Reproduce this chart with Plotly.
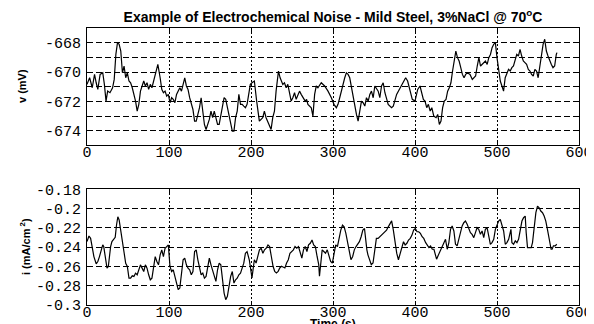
import plotly.graph_objects as go

# ---- data ----
time_v = [0, 3.2, 6.4, 9.2, 11.2, 13.2, 16, 19.2, 21.2, 23.2, 25.2, 28, 31.2, 33.2, 35.2, 37.2, 39.2, 41.2, 43.2, 45.2,
          47.2, 49.2, 51.2, 53.2, 55.2, 59.2, 61.2, 63.2, 65.2, 67.2, 69.2, 71.2, 73.2, 75.2, 77.2, 79.2, 83.2, 86.4, 89.2, 91.2,
          93.2, 95.2, 97.2, 99.2, 101.2, 103.2, 105.2, 107.2, 109.2, 111.2, 113.2, 115.2, 117.2, 119.2, 121.2, 123.2, 125.2, 127.2, 129.2, 131.2,
          133.2, 135.2, 137.2, 139.2, 141.2, 143.2, 145.2, 147.2, 149.2, 151.2, 153.2, 155.2, 157.2, 159.2, 161.2, 163.2, 165.2, 167.2, 169.2, 171.2,
          173.2, 175.2, 177.2, 179.2, 181.2, 183.2, 185.2, 187.2, 189.2, 191.2, 193.2, 195.2, 197.2, 199.2, 201.2, 204.1, 206.9, 210.2, 214.3, 216.3,
          218.4, 220.4, 222.4, 224.5, 226.5, 228.6, 230.6, 233.5, 235.5, 236.7, 238.8, 240.8, 242.9, 244.9, 246.9, 249.0, 251.0, 253.1, 255.1, 257.1,
          259.2, 261.2, 263.3, 266.1, 267.8, 269.4, 273.5, 275.5, 277.6, 279.6, 281.6, 285.7, 289.8, 293.9, 298.0, 301.2, 304.1, 306.1, 308.2, 311.0,
          314.3, 316.3, 318.4, 320.4, 323.3, 325.7, 328.6, 330.6, 332.7, 334.7, 336.7, 338.8, 340.8, 342.9, 344.9, 346.9, 349.0, 351.0, 355.1, 357.1,
          359.2, 361.2, 363.3, 365.3, 367.3, 371.4, 373.5, 377.6, 381.6, 385.7, 388.6, 391.0, 393.9, 396.7, 400.0, 403.3, 406.1, 408.2, 410.2, 412.2,
          414.3, 416.3, 418.5, 420.5, 422.9, 425.7, 427.7, 429.7, 431.7, 433.7, 435.7, 437.8, 439.8, 441.8, 443.8, 445.8, 447.8, 449.8, 451.8, 453.8,
          455.8, 457.8, 459.8, 461.8, 463.9, 467.1, 469.9, 471.9, 473.9, 475.9, 477.9, 479.9, 481.9, 483.9, 485.9, 488.0, 490.0, 492.0, 494.0, 496.0,
          498.0, 500.0, 502.0, 504.0, 506.0, 508.0, 510.0, 512.0, 514.1, 516.1, 518.1, 520.1, 522.1, 524.1, 526.1, 528.1, 530.1, 532.1, 534.1, 536.1,
          538.2, 540.2, 542.2, 544.2, 546.2, 548.2, 550.2, 552.2, 554.2, 556.2, 558.2, 560.2, 562.2, 564.3, 566.3, 568.3, 570.3, 572.3, 573.1]
voltage_mv = [-670.84, -670.39, -671.07, -670.16, -670.73, -671.18, -670.16, -670.05, -670.84, -671.98, -671.30, -671.41, -671.07, -670.5, -668.80, -668.0, -668.11, -668.57, -670.05, -669.59,
              -670.39, -670.05, -670.61, -670.73, -671.07, -671.98, -672.66, -672.20, -671.30, -670.95, -670.61, -670.95, -670.73, -671.18, -670.84, -671.07, -670.16, -669.48, -670.39, -671.18,
              -671.41, -671.30, -671.64, -671.52, -672.09, -671.75, -671.86, -672.09, -671.52, -671.30, -671.07, -671.30, -670.73, -670.39, -670.95, -671.18, -671.75, -672.20, -672.55, -673.34,
              -673.34, -672.89, -672.43, -671.75, -672.55, -673.57, -673.91, -673.57, -673.23, -672.66, -673.11, -672.66, -673.11, -673.57, -673.57, -672.89, -672.32, -671.75, -671.86, -672.43,
              -672.89, -673.57, -674.02, -674.02, -673.11, -672.66, -671.52, -672.20, -672.20, -672.32, -672.43, -672.20, -671.52, -670.84, -670.73, -670.61, -671.98, -673.34, -673.11, -672.66,
              -673.11, -673.34, -673.68, -673.91, -673.11, -672.66, -671.30, -669.93, -670.39, -670.61, -670.84, -670.73, -671.07, -670.84, -671.30, -671.98, -671.75, -671.41, -671.86, -671.52,
              -671.30, -671.52, -671.75, -671.98, -671.86, -672.20, -672.43, -673.0, -671.52, -670.95, -671.07, -670.73, -670.95, -671.30, -671.75, -672.20, -672.43, -672.20, -671.75, -671.07,
              -670.39, -670.05, -670.16, -670.39, -671.30, -672.20, -672.89, -673.34, -672.66, -671.98, -672.09, -672.32, -671.75, -671.98, -671.52, -671.30, -671.75, -670.95, -671.30, -671.75,
              -670.95, -670.73, -671.41, -671.75, -672.20, -672.43, -672.32, -671.52, -671.07, -670.61, -670.39, -670.61, -671.30, -671.86, -671.98, -671.18, -670.95, -671.52, -671.86, -671.98,
              -672.43, -672.20, -672.66, -672.43, -673.0, -673.11, -672.89, -673.57, -673.34, -672.43, -671.98, -671.86, -671.30, -671.07, -670.73, -669.93, -669.25, -668.57, -669.02, -669.25,
              -669.70, -670.16, -670.39, -670.16, -670.05, -670.16, -670.5, -670.39, -670.27, -669.59, -669.02, -669.59, -669.48, -669.36, -669.25, -669.48, -669.02, -668.80, -668.34, -668.11,
              -668.0, -669.02, -669.82, -670.61, -670.95, -671.30, -670.39, -670.05, -669.82, -669.93, -669.70, -669.59, -669.25, -668.80, -668.91, -668.45, -668.91, -669.25, -669.36, -669.48,
              -669.82, -669.93, -670.16, -670.27, -669.82, -669.93, -670.39, -669.59, -668.80, -668.11, -667.77, -668.57, -668.91, -669.25, -669.48, -669.70, -669.59, -668.80, -668.68]

time_i = [0, 2.4, 4.4, 6.4, 8.4, 11.2, 13.2, 15.2, 17.2, 19.2, 20.4, 22.4, 24.4, 26.0, 27.2, 28.8, 30.4, 32.4, 34.4, 36.0,
          37.6, 39.2, 41.2, 43.2, 45.2, 47.2, 49.2, 51.2, 53.2, 55.2, 57.2, 59.2, 61.2, 63.2, 65.2, 67.2, 69.2, 71.2, 73.2, 75.2,
          77.2, 79.2, 81.2, 83.2, 85.2, 87.2, 89.2, 91.2, 93.2, 95.2, 97.2, 99.2, 101.2, 103.2, 105.2, 107.2, 109.2, 111.2, 113.2, 115.2,
          117.2, 119.2, 121.2, 123.2, 125.2, 127.2, 129.2, 131.2, 133.2, 135.2, 137.2, 139.2, 141.2, 143.2, 145.2, 147.2, 149.2, 151.2, 153.2, 155.2,
          157.2, 159.2, 161.2, 163.2, 165.2, 167.2, 169.2, 171.2, 173.2, 175.2, 177.2, 179.2, 181.2, 183.2, 185.2, 187.2, 189.2, 191.2, 193.2, 195.2,
          197.9, 200.0, 201.2, 202.5, 204.1, 206.2, 208.3, 210.3, 212.4, 214.5, 216.5, 218.6, 220.7, 222.7, 224.8, 226.9, 228.9, 231.0, 233.1, 235.1,
          237.2, 241.3, 243.4, 245.5, 247.5, 249.6, 251.7, 253.7, 255.8, 257.9, 259.9, 262.0, 264.0, 266.1, 268.2, 270.2, 272.3, 274.4, 276.4, 278.5,
          280.6, 282.6, 283.5, 284.7, 286.8, 288.8, 290.9, 293.0, 295.0, 297.1, 299.2, 301.2, 303.3, 305.4, 307.4, 309.5, 311.6, 313.6, 315.7, 317.8,
          319.8, 321.9, 324.0, 326.0, 328.1, 330.2, 332.2, 334.3, 336.4, 338.4, 339.7, 341.3, 342.6, 344.6, 346.7, 348.8, 350.8, 352.9, 355.0, 357.0,
          359.1, 361.2, 363.2, 365.3, 367.4, 369.4, 371.5, 373.6, 375.6, 377.7, 379.8, 381.8, 383.9, 386.0, 388.0, 390.1, 392.1, 394.2, 396.3, 398.3,
          400.4, 402.5, 404.5, 406.6, 408.7, 410.7, 413.0, 415.0, 417.0, 419.0, 421.1, 423.1, 425.1, 426.3, 428.0, 430.0, 432.0, 433.2, 435.2, 437.2,
          439.3, 441.3, 443.3, 445.3, 447.4, 449.4, 451.4, 453.4, 455.5, 457.5, 459.5, 461.5, 463.6, 465.6, 467.6, 469.6, 471.7, 473.7, 475.7, 477.7,
          479.8, 481.8, 483.8, 485.8, 487.9, 489.9, 491.9, 493.9, 496.0, 498.0, 500.0, 502.0, 504.0, 506.1, 508.1, 510.1, 512.1, 514.2, 516.2, 517.0,
          518.2, 520.2, 522.3, 524.3, 526.3, 528.3, 530.4, 532.4, 534.4, 535.6, 537.2, 539.3, 541.7, 543.3, 544.5, 545.7, 547.4, 549.4, 551.4, 553.4,
          555.5, 557.5, 559.5, 561.5, 563.2, 564.8, 566.0, 567.2, 568.8, 570.9, 572.9]
current_ma_cm2 = [-0.2341, -0.2283, -0.2307, -0.2393, -0.2497, -0.2572, -0.2548, -0.2497, -0.2428, -0.2376, -0.2393, -0.2531, -0.2617, -0.2600, -0.2497, -0.2393, -0.2341, -0.2324, -0.2297, -0.2169,
                  -0.2083, -0.2117, -0.2221, -0.2324, -0.2462, -0.2566, -0.2600, -0.2721, -0.2721, -0.2697, -0.2703, -0.2669, -0.2686, -0.2634, -0.2583, -0.2617, -0.2652, -0.2583, -0.2617, -0.2686,
                  -0.2738, -0.2721, -0.2600, -0.2497, -0.2548, -0.2583, -0.2479, -0.2428, -0.2497, -0.2410, -0.2393, -0.2376, -0.2600, -0.2652, -0.2634, -0.2703, -0.2790, -0.2841, -0.2824, -0.2703,
                  -0.2531, -0.2514, -0.2583, -0.2617, -0.2634, -0.2686, -0.2652, -0.2445, -0.2428, -0.2531, -0.2617, -0.2686, -0.2669, -0.2721, -0.2703, -0.2617, -0.2514, -0.2583, -0.2634, -0.2703,
                  -0.2755, -0.2634, -0.2566, -0.2583, -0.2772, -0.2876, -0.2945, -0.2910, -0.2807, -0.2703, -0.2652, -0.2772, -0.2738, -0.2721, -0.2686, -0.2669, -0.2617, -0.2566, -0.2462, -0.2445,
                  -0.2530, -0.2667, -0.2718, -0.2632, -0.2530, -0.2564, -0.2496, -0.2427, -0.2410, -0.2462, -0.2427, -0.2410, -0.2376, -0.2393, -0.2496, -0.2598, -0.2650, -0.2667, -0.2650, -0.2615,
                  -0.2598, -0.2615, -0.2564, -0.2530, -0.2462, -0.2444, -0.2427, -0.2393, -0.2410, -0.2393, -0.2462, -0.2513, -0.2427, -0.2393, -0.2444, -0.2376, -0.2359, -0.2325, -0.2376, -0.2393,
                  -0.2496, -0.2581, -0.2701, -0.2564, -0.2427, -0.2444, -0.2462, -0.2427, -0.2479, -0.2547, -0.2564, -0.2462, -0.2376, -0.2393, -0.2291, -0.2222, -0.2171, -0.2188, -0.2256, -0.2342,
                  -0.2444, -0.2530, -0.2496, -0.2427, -0.2393, -0.2359, -0.2342, -0.2291, -0.2222, -0.2205, -0.2325, -0.2427, -0.2479, -0.2530, -0.2581, -0.2564, -0.2427, -0.2308, -0.2308, -0.2291,
                  -0.2274, -0.2256, -0.2239, -0.2222, -0.2188, -0.2154, -0.2126, -0.2222, -0.2359, -0.2462, -0.2530, -0.2462, -0.2393, -0.2342, -0.2376, -0.2359, -0.2325, -0.2308, -0.2274, -0.2222,
                  -0.2205, -0.2239, -0.2239, -0.2256, -0.2291, -0.2308, -0.2352, -0.2386, -0.2403, -0.2386, -0.2421, -0.2421, -0.2507, -0.2524, -0.2490, -0.2455, -0.2421, -0.2403, -0.2369, -0.2317,
                  -0.2421, -0.2352, -0.2214, -0.2179, -0.2231, -0.2369, -0.2386, -0.2317, -0.2248, -0.2179, -0.2145, -0.2128, -0.2162, -0.2214, -0.2248, -0.2266, -0.2300, -0.2248, -0.2197, -0.2214,
                  -0.2266, -0.2231, -0.2300, -0.2214, -0.2197, -0.2283, -0.2369, -0.2352, -0.2317, -0.2214, -0.2162, -0.2128, -0.2110, -0.2162, -0.2231, -0.2369, -0.2352, -0.2317, -0.2248, -0.2214,
                  -0.2352, -0.2369, -0.2334, -0.2352, -0.2317, -0.2231, -0.2128, -0.2093, -0.2076, -0.2248, -0.2403, -0.2403, -0.2403, -0.2352, -0.2248, -0.2128, -0.2041, -0.1972, -0.1990, -0.2024,
                  -0.2041, -0.2076, -0.2128, -0.2214, -0.2283, -0.2369, -0.2421, -0.2421, -0.2386, -0.2386, -0.2369]

x_ticks = [0, 100, 200, 300, 400, 500, 600]
x_tick_labels = ["0", "100", "200", "300", "400", "500", "600"]
v_ticks = [-674, -672, -670, -668]
v_tick_labels = ["-674", "-672", "-670", "-668"]
v_minor_ticks = [-673, -671, -669]
i_ticks = [-0.30, -0.28, -0.26, -0.24, -0.22, -0.20, -0.18]
i_tick_labels = ["-0.3", "-0.28", "-0.26", "-0.24", "-0.22", "-0.2", "-0.18"]

title_text = "Example of Electrochemical Noise - Mild Steel, 3%NaCl @ 70<sup>o</sup>C"

# The page body adds an 8px margin, so the figure is 8px smaller than the window.
FIG_W, FIG_H = 586, 316

fig = go.Figure()
fig.add_trace(go.Scatter(x=time_v, y=voltage_mv, mode="lines", line=dict(color="black", width=1.2),
                         xaxis="x", yaxis="y", showlegend=False))
fig.add_trace(go.Scatter(x=time_i, y=current_ma_cm2, mode="lines", line=dict(color="black", width=1.2),
                         xaxis="x2", yaxis="y2", showlegend=False))

tick_font = dict(family="Liberation Mono", size=15, color="black")
common_x = dict(range=[0, 600], tickvals=x_ticks, ticktext=x_tick_labels, showgrid=True,
                gridcolor="black", gridwidth=1, griddash="2px,2px", showline=True, linecolor="black",
                linewidth=1, mirror="ticks", ticks="inside", ticklen=4, tickcolor="black",
                tickfont=tick_font, zeroline=False, automargin=False, ticklabelstandoff=-7)
common_y = dict(showgrid=True, gridcolor="black", gridwidth=1, griddash="6px,3px", showline=True,
                linecolor="black", linewidth=1, mirror="ticks", ticks="inside", ticklen=4,
                tickcolor="black", tickfont=tick_font, zeroline=False, automargin=False,
                ticklabelstandoff=2)

fig.update_layout(
    template="none",
    width=FIG_W, height=FIG_H,
    margin=dict(l=79, r=15, t=20, b=19),
    paper_bgcolor="white", plot_bgcolor="white",
    xaxis=dict(domain=[0, 1], anchor="y", **common_x),
    yaxis=dict(domain=[0.576, 1], anchor="x", range=[-675, -667], tickvals=v_ticks,
               ticktext=v_tick_labels,
               minor=dict(tickvals=v_minor_ticks, ticks="inside", ticklen=4, tickcolor="black",
                          showgrid=True, gridcolor="black", gridwidth=1, griddash="6px,3px"),
               **common_y),
    xaxis2=dict(domain=[0, 1], anchor="y2", **common_x),
    yaxis2=dict(domain=[0, 0.417], anchor="x2", range=[-0.3, -0.18], tickvals=i_ticks,
                ticktext=i_tick_labels, **common_y),
    title=dict(text=title_text, x=325 / FIG_W, xref="container", xanchor="center",
               y=1 - 9 / FIG_H, yref="container", yanchor="middle",
               font=dict(family="Liberation Sans", size=14, color="black", weight="bold")),
    annotations=[
        dict(text="v (mV)", xref="paper", yref="paper", x=-65 / 492, y=(305 - 86) / 277,
             textangle=-90, showarrow=False, xanchor="center", yanchor="middle",
             font=dict(family="Liberation Sans", size=11, color="black", weight="bold")),
        dict(text="i (mA/cm<sup> 2</sup>)", xref="paper", yref="paper", x=-62 / 492, y=(305 - 247) / 277,
             textangle=-90, showarrow=False, xanchor="center", yanchor="middle",
             font=dict(family="Liberation Sans", size=11, color="black", weight="bold")),
        dict(text="Time (s)", xref="paper", yref="paper", x=0.5, y=(305 - 315) / 277,
             showarrow=False, xanchor="center", yanchor="top",
             font=dict(family="Liberation Sans", size=12, color="black", weight="bold")),
    ],
)

fig.write_html("out.html")
